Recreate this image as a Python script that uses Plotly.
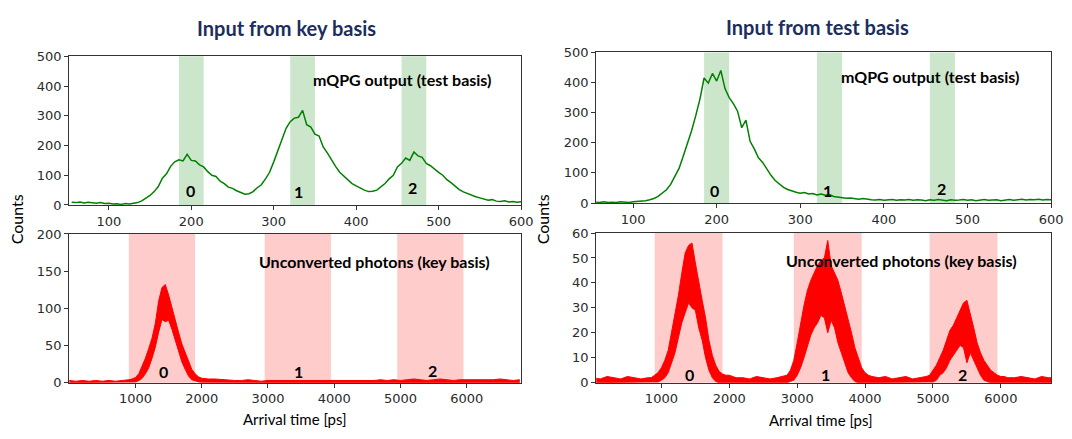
import plotly.graph_objects as go

W, H = 1072, 439

# ---------------- data ----------------
# top panels: arrival time (ps) sampled every 5 ps
T_TOP = list(range(55, 605, 5))
KEY_MQPG = [9, 8, 10, 7, 9, 8, 6, 8, 5, 6,
            3, 4, 2, 5, 3, 6, 8, 14, 22, 32,
            45, 62, 90, 105, 130, 145, 152, 148, 170, 150,
            148, 135, 128, 112, 100, 96, 80, 72, 60, 56,
            48, 42, 36, 38, 45, 58, 68, 88, 110, 145,
            180, 220, 258, 280, 292, 295, 318, 270, 262, 238,
            232, 195, 175, 150, 130, 110, 98, 84, 72, 64,
            56, 50, 45, 46, 50, 62, 72, 88, 100, 128,
            140, 158, 150, 178, 165, 160, 140, 132, 120, 110,
            100, 85, 75, 62, 52, 44, 38, 32, 28, 24,
            20, 16, 18, 13, 12, 14, 10, 12, 9, 11]
TEST_MQPG = [3, 2, 4, 2, 3, 2, 4, 3, 2, 4,
             5, 6, 8, 11, 15, 22, 32, 44, 62, 88,
             115, 155, 195, 240, 290, 345, 415, 398, 430, 405,
             440, 380, 350, 330, 305, 250, 275, 205, 180, 150,
             135, 112, 92, 75, 62, 52, 45, 40, 36, 33,
             35, 30, 32, 27, 30, 26, 28, 22, 20, 18,
             16, 17, 14, 13, 15, 12, 11, 10, 12, 9,
             10, 12, 9, 11, 10, 12, 9, 11, 10, 8,
             11, 9, 12, 10, 8, 11, 9, 10, 12, 9,
             11, 8, 10, 12, 9, 10, 11, 8, 10, 12,
             9, 11, 13, 10, 12, 11, 13, 10, 12, 11]

# bottom panels: noisy count band (upper / lower envelope)
T_BOT_KEY = list(range(0, 850, 100)) + list(range(850, 2150, 50)) + list(range(2200, 6900, 100))
KEY_UNCONV_HI = ([3, 2, 3, 2, 3, 2, 3, 2, 3]
                 + [3, 4, 5, 7, 12, 22, 33, 46, 60, 80, 110, 128, 132, 118, 100, 85, 68, 52, 40, 28, 18, 12, 8, 6, 5, 5]
                 + [5, 4, 4, 3, 3, 4, 3, 2, 3, 3, 2, 3, 2, 3, 3, 2, 3, 2, 3, 3, 2, 3, 3, 2,
                    3, 4, 3, 4, 3, 4, 5, 4, 3, 4, 5, 4, 3, 4, 4, 3, 4, 3, 4, 5, 4, 3, 4])
KEY_UNCONV_LO = ([0] * 9
                 + [0, 0, 0.5, 1, 3, 6, 12, 20, 33, 48, 68, 85, 82, 84, 72, 58, 42, 28, 18, 9, 4, 2, 1, 0.5, 0.5, 0.5]
                 + [0] * 47)

T_BOT_TEST = (list(range(0, 850, 100)) + list(range(850, 2150, 50)) + list(range(2200, 2850, 100))
              + list(range(2850, 4150, 50)) + list(range(4200, 4850, 100)) + list(range(4850, 6150, 50))
              + list(range(6200, 6900, 100)))
TEST_UNCONV_HI = ([2, 1.5, 2.5, 2, 1.5, 2.5, 2, 1.5, 2]
                  + [2, 3, 4, 6, 9, 13, 20, 27, 35, 44, 52, 55, 56, 48, 40, 33, 26, 17, 11, 7, 4.5, 3.5, 3, 3, 2.5, 2]
                  + [2, 1.5, 2.5, 2, 1.5, 2, 2.5]
                  + [3, 5, 9, 16, 24, 31, 37, 41, 44, 47, 49, 50, 57, 47, 44, 41, 36, 31, 25, 20, 14, 10, 6, 4, 3, 2.5]
                  + [2, 2.5, 1.5, 2, 2.5, 1.5, 2]
                  + [2, 2.5, 3, 5, 7, 10, 13, 17, 21, 23, 26, 29, 32, 33, 28, 22, 16, 12, 9, 7, 5, 4, 3, 2.5, 2.5, 2]
                  + [2, 2.5, 2, 1.5, 2.5, 2, 2])
TEST_UNCONV_LO = ([0] * 9
                  + [0, 0, 0.3, 1, 2, 4, 8, 12, 18, 24, 28, 32, 30, 29, 22, 17, 10, 5, 2, 0.5, 0, 0, 0, 0, 0, 0]
                  + [0] * 7
                  + [0, 0.5, 1, 3, 6, 10, 15, 19, 22, 24, 27, 26, 20, 25, 22, 16, 12, 8, 4, 2, 0.5, 0, 0, 0, 0, 0]
                  + [0] * 7
                  + [0, 0, 0, 0.3, 1, 3, 4, 6, 9, 11, 13, 15, 14, 8, 12, 9, 6, 3, 1, 0.5, 0, 0, 0, 0, 0, 0]
                  + [0] * 7)

GREEN_BANDS = [(185, 215), (320, 350), (455, 485)]
RED_BANDS = [(900, 1900), (2950, 3950), (4950, 5950)]
BIN_LABELS = ["0", "1", "2"]
TOP_TICKS = [100, 200, 300, 400, 500, 600]
BOT_TICKS = [1000, 2000, 3000, 4000, 5000, 6000]

# ---------------- figure ----------------
GREEN = "#008000"
RED = "#ff0000"
TXT_FONT = "Lato"
TICK_FONT = dict(family="DejaVu Sans", size=13, color="#2b2b2b")


def px(x, y):
    return x / W, 1 - y / H


fig = go.Figure()

fig.add_trace(go.Scatter(x=T_TOP, y=KEY_MQPG, mode="lines", line=dict(color=GREEN, width=1.5),
                         xaxis="x", yaxis="y", showlegend=False))
fig.add_trace(go.Scatter(x=T_BOT_KEY, y=KEY_UNCONV_LO, mode="lines", line=dict(color=RED, width=1),
                         xaxis="x2", yaxis="y2", showlegend=False))
fig.add_trace(go.Scatter(x=T_BOT_KEY, y=KEY_UNCONV_HI, mode="lines", line=dict(color=RED, width=1),
                         fill="tonexty", fillcolor=RED, xaxis="x2", yaxis="y2", showlegend=False))
fig.add_trace(go.Scatter(x=T_TOP, y=TEST_MQPG, mode="lines", line=dict(color=GREEN, width=1.5),
                         xaxis="x3", yaxis="y3", showlegend=False))
fig.add_trace(go.Scatter(x=T_BOT_TEST, y=TEST_UNCONV_LO, mode="lines", line=dict(color=RED, width=1),
                         xaxis="x4", yaxis="y4", showlegend=False))
fig.add_trace(go.Scatter(x=T_BOT_TEST, y=TEST_UNCONV_HI, mode="lines", line=dict(color=RED, width=1),
                         fill="tonexty", fillcolor=RED, xaxis="x4", yaxis="y4", showlegend=False))

shapes = []
for xa, ya in (("x", "y"), ("x3", "y3")):
    for a, b in GREEN_BANDS:
        shapes.append(dict(type="rect", xref=xa, yref=ya + " domain", x0=a, x1=b, y0=0, y1=1,
                           fillcolor="rgb(204,230,204)", line_width=0, layer="below"))
for xa, ya in (("x2", "y2"), ("x4", "y4")):
    for a, b in RED_BANDS:
        shapes.append(dict(type="rect", xref=xa, yref=ya + " domain", x0=a, x1=b, y0=0, y1=1,
                           fillcolor="rgb(255,204,204)", line_width=0, layer="below"))


def ax(domain, rng, ticks, anchor):
    return dict(domain=domain, range=rng, tickvals=ticks, anchor=anchor, showgrid=False, zeroline=False,
                showline=True, mirror=True, linecolor="#333333", linewidth=1, ticks="outside",
                ticklen=4, tickcolor="#333333", tickfont=TICK_FONT)


fig.update_layout(
    width=W, height=H, margin=dict(l=0, r=0, t=0, b=0),
    paper_bgcolor="white", plot_bgcolor="white",
    xaxis=ax([70 / W, 527 / W], [52, 600], TOP_TICKS, "y"),
    yaxis=ax([1 - 205 / H, 1 - 51 / H], [0, 500], [0, 100, 200, 300, 400, 500], "x"),
    xaxis2=ax([70 / W, 527 / W], [0, 6820], BOT_TICKS, "y2"),
    yaxis2=ax([1 - 389 / H, 1 - 235 / H], [0, 200], [0, 50, 100, 150, 200], "x2"),
    xaxis3=ax([603 / W, 1063 / W], [56, 600], TOP_TICKS, "y3"),
    yaxis3=ax([1 - 203 / H, 1 - 47 / H], [0, 500], [0, 100, 200, 300, 400, 500], "x3"),
    xaxis4=ax([603 / W, 1063 / W], [40, 6740], BOT_TICKS, "y4"),
    yaxis4=ax([1 - 389 / H, 1 - 234 / H], [0, 60], [0, 10, 20, 30, 40, 50, 60], "x4"),
    shapes=shapes,
)

ann = []


def text(x, y, s, size, color="black", bold=False, angle=0):
    fx, fy = px(x, y)
    ann.append(dict(x=fx, y=fy, xref="paper", yref="paper", text=("<b>%s</b>" % s) if bold else s,
                    showarrow=False, xanchor="center", yanchor="middle", textangle=angle,
                    font=dict(family=TXT_FONT, size=size, color=color)))


text(290, 22, "Input from key basis", 20, "#1c2d5e", True)
text(827, 21, "Input from test basis", 20, "#1c2d5e", True)
text(407, 75, "mQPG output (test basis)", 16, bold=True)
text(941, 72, "mQPG output (test basis)", 16, bold=True)
text(379, 263, "Unconverted photons (key basis)", 16, bold=True)
text(912, 262, "Unconverted photons (key basis)", 16, bold=True)
text(17, 220, "Counts", 16, angle=-90)
text(549, 220, "Counts", 16, angle=-90)
text(298, 427, "Arrival time [ps]", 15)
text(830, 428, "Arrival time [ps]", 15)

label_pos = [
    [(193, 190), (302, 191), (417, 187)],
    [(165, 377), (302, 377), (437, 376)],
    [(723, 190), (837, 190), (952, 188)],
    [(697, 380), (835, 381), (973, 380)],
]
for row in label_pos:
    for (lx, ly), lab in zip(row, BIN_LABELS):
        text(lx, ly, lab, 16, bold=True)

fig.update_layout(annotations=ann)

PIN = ("var gd=document.getElementById('{plot_id}');"
       "document.documentElement.style.margin='0';document.documentElement.style.overflow='hidden';"
       "document.body.style.margin='0';document.body.style.padding='0';document.body.style.overflow='hidden';"
       "gd.style.position='fixed';gd.style.left='0px';gd.style.top='0px';")
fig.write_html("out.html", config={"displayModeBar": False}, post_script=PIN)
